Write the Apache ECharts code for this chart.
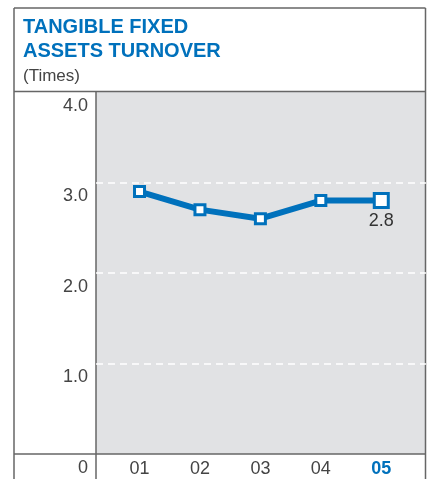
<!DOCTYPE html>
<html>
<head>
<meta charset="utf-8">
<script src="https://cdn.jsdelivr.net/npm/echarts@6/dist/echarts.min.js"></script>
<style>
  html, body { margin: 0; padding: 0; background: #fff; }
  #chart { width: 431px; height: 479px; }
</style>
</head>
<body>
<div id="chart"></div>
<script>
// Fiscal years shown along the bottom
const categories = ['01', '02', '03', '04', '05'];
// Tangible fixed assets turnover (times)
const turnover = [2.9, 2.7, 2.6, 2.8, 2.8];
// Value-axis tick labels
const yTicks = [0, 1, 2, 3, 4];

const BLUE = '#0071bc';
const FRAME = '#666';
const FONT = '"Liberation Sans", Arial, Helvetica, sans-serif';

const lastIdx = turnover.length - 1;
const points = turnover.map((v, i) => {
  const p = { value: [i + 1, v] };
  if (i === lastIdx) {
    p.symbolSize = 14;
    p.label = {
      show: true, position: 'bottom', distance: 3,
      formatter: () => v.toFixed(1),
      color: '#333', fontSize: 18, fontFamily: FONT
    };
  }
  return p;
});

const chart = echarts.init(document.getElementById('chart'), null, { renderer: 'canvas' });
chart.setOption({
  animation: false,
  backgroundColor: '#fff',
  title: {
    text: 'TANGIBLE FIXED\nASSETS TURNOVER',
    subtext: '(Times)',
    left: 23, top: 15, padding: 0, itemGap: 2,
    textStyle: { color: BLUE, fontSize: 20, fontWeight: 'bold', lineHeight: 24.5, fontFamily: FONT },
    subtextStyle: { color: '#444', fontSize: 17, lineHeight: 20, fontFamily: FONT }
  },
  grid: {
    left: 96, right: 5, top: 92, bottom: 25,
    show: true, backgroundColor: '#e1e2e4', borderWidth: 0
  },
  xAxis: {
    type: 'value', min: 0.28, max: 5.74,
    axisLine: { show: false }, axisTick: { show: false }, splitLine: { show: false },
    axisLabel: {
      customValues: categories.map((c, i) => i + 1),
      margin: 6,
      fontSize: 18, color: '#444', fontFamily: FONT,
      formatter: v => {
        const i = Math.round(v) - 1;
        return i === lastIdx ? '{hl|' + categories[i] + '}' : categories[i];
      },
      rich: { hl: { color: BLUE, fontWeight: 'bold', fontSize: 18, fontFamily: FONT } }
    }
  },
  yAxis: {
    type: 'value', min: yTicks[0], max: yTicks[yTicks.length - 1], interval: 1,
    axisLine: { show: false }, axisTick: { show: false },
    splitLine: {
      show: true, showMinLine: false, showMaxLine: false,
      lineStyle: { color: '#fff', width: 1.5, type: [7, 5] }
    },
    axisLabel: {
      margin: 8, verticalAlign: 'top', padding: [5, 0, 0, 0],
      fontSize: 18, color: '#444', fontFamily: FONT,
      formatter: v => v === 0 ? '0' : v.toFixed(1)
    }
  },
  series: [{
    type: 'line',
    data: points,
    symbol: 'rect',
    symbolSize: 10,
    lineStyle: { color: BLUE, width: 6 },
    itemStyle: { color: '#fff', borderColor: BLUE, borderWidth: 3 },
    z: 5
  }],
  graphic: [
    // outer frame and dividers of the panel
    { type: 'line', shape: { x1: 14, y1: 8, x2: 425.5, y2: 8 }, style: { stroke: FRAME, lineWidth: 1.5 } },
    { type: 'line', shape: { x1: 14, y1: 8, x2: 14, y2: 479 }, style: { stroke: FRAME, lineWidth: 1.5 } },
    { type: 'line', shape: { x1: 425.5, y1: 8, x2: 425.5, y2: 479 }, style: { stroke: FRAME, lineWidth: 1.5 } },
    { type: 'line', shape: { x1: 14, y1: 91.5, x2: 425.5, y2: 91.5 }, style: { stroke: FRAME, lineWidth: 1.5 } },
    { type: 'line', shape: { x1: 14, y1: 454, x2: 425.5, y2: 454 }, style: { stroke: FRAME, lineWidth: 1.5 } },
    { type: 'line', shape: { x1: 96, y1: 91.5, x2: 96, y2: 479 }, style: { stroke: FRAME, lineWidth: 1.5 } }
  ]
});
</script>
</body>
</html>
